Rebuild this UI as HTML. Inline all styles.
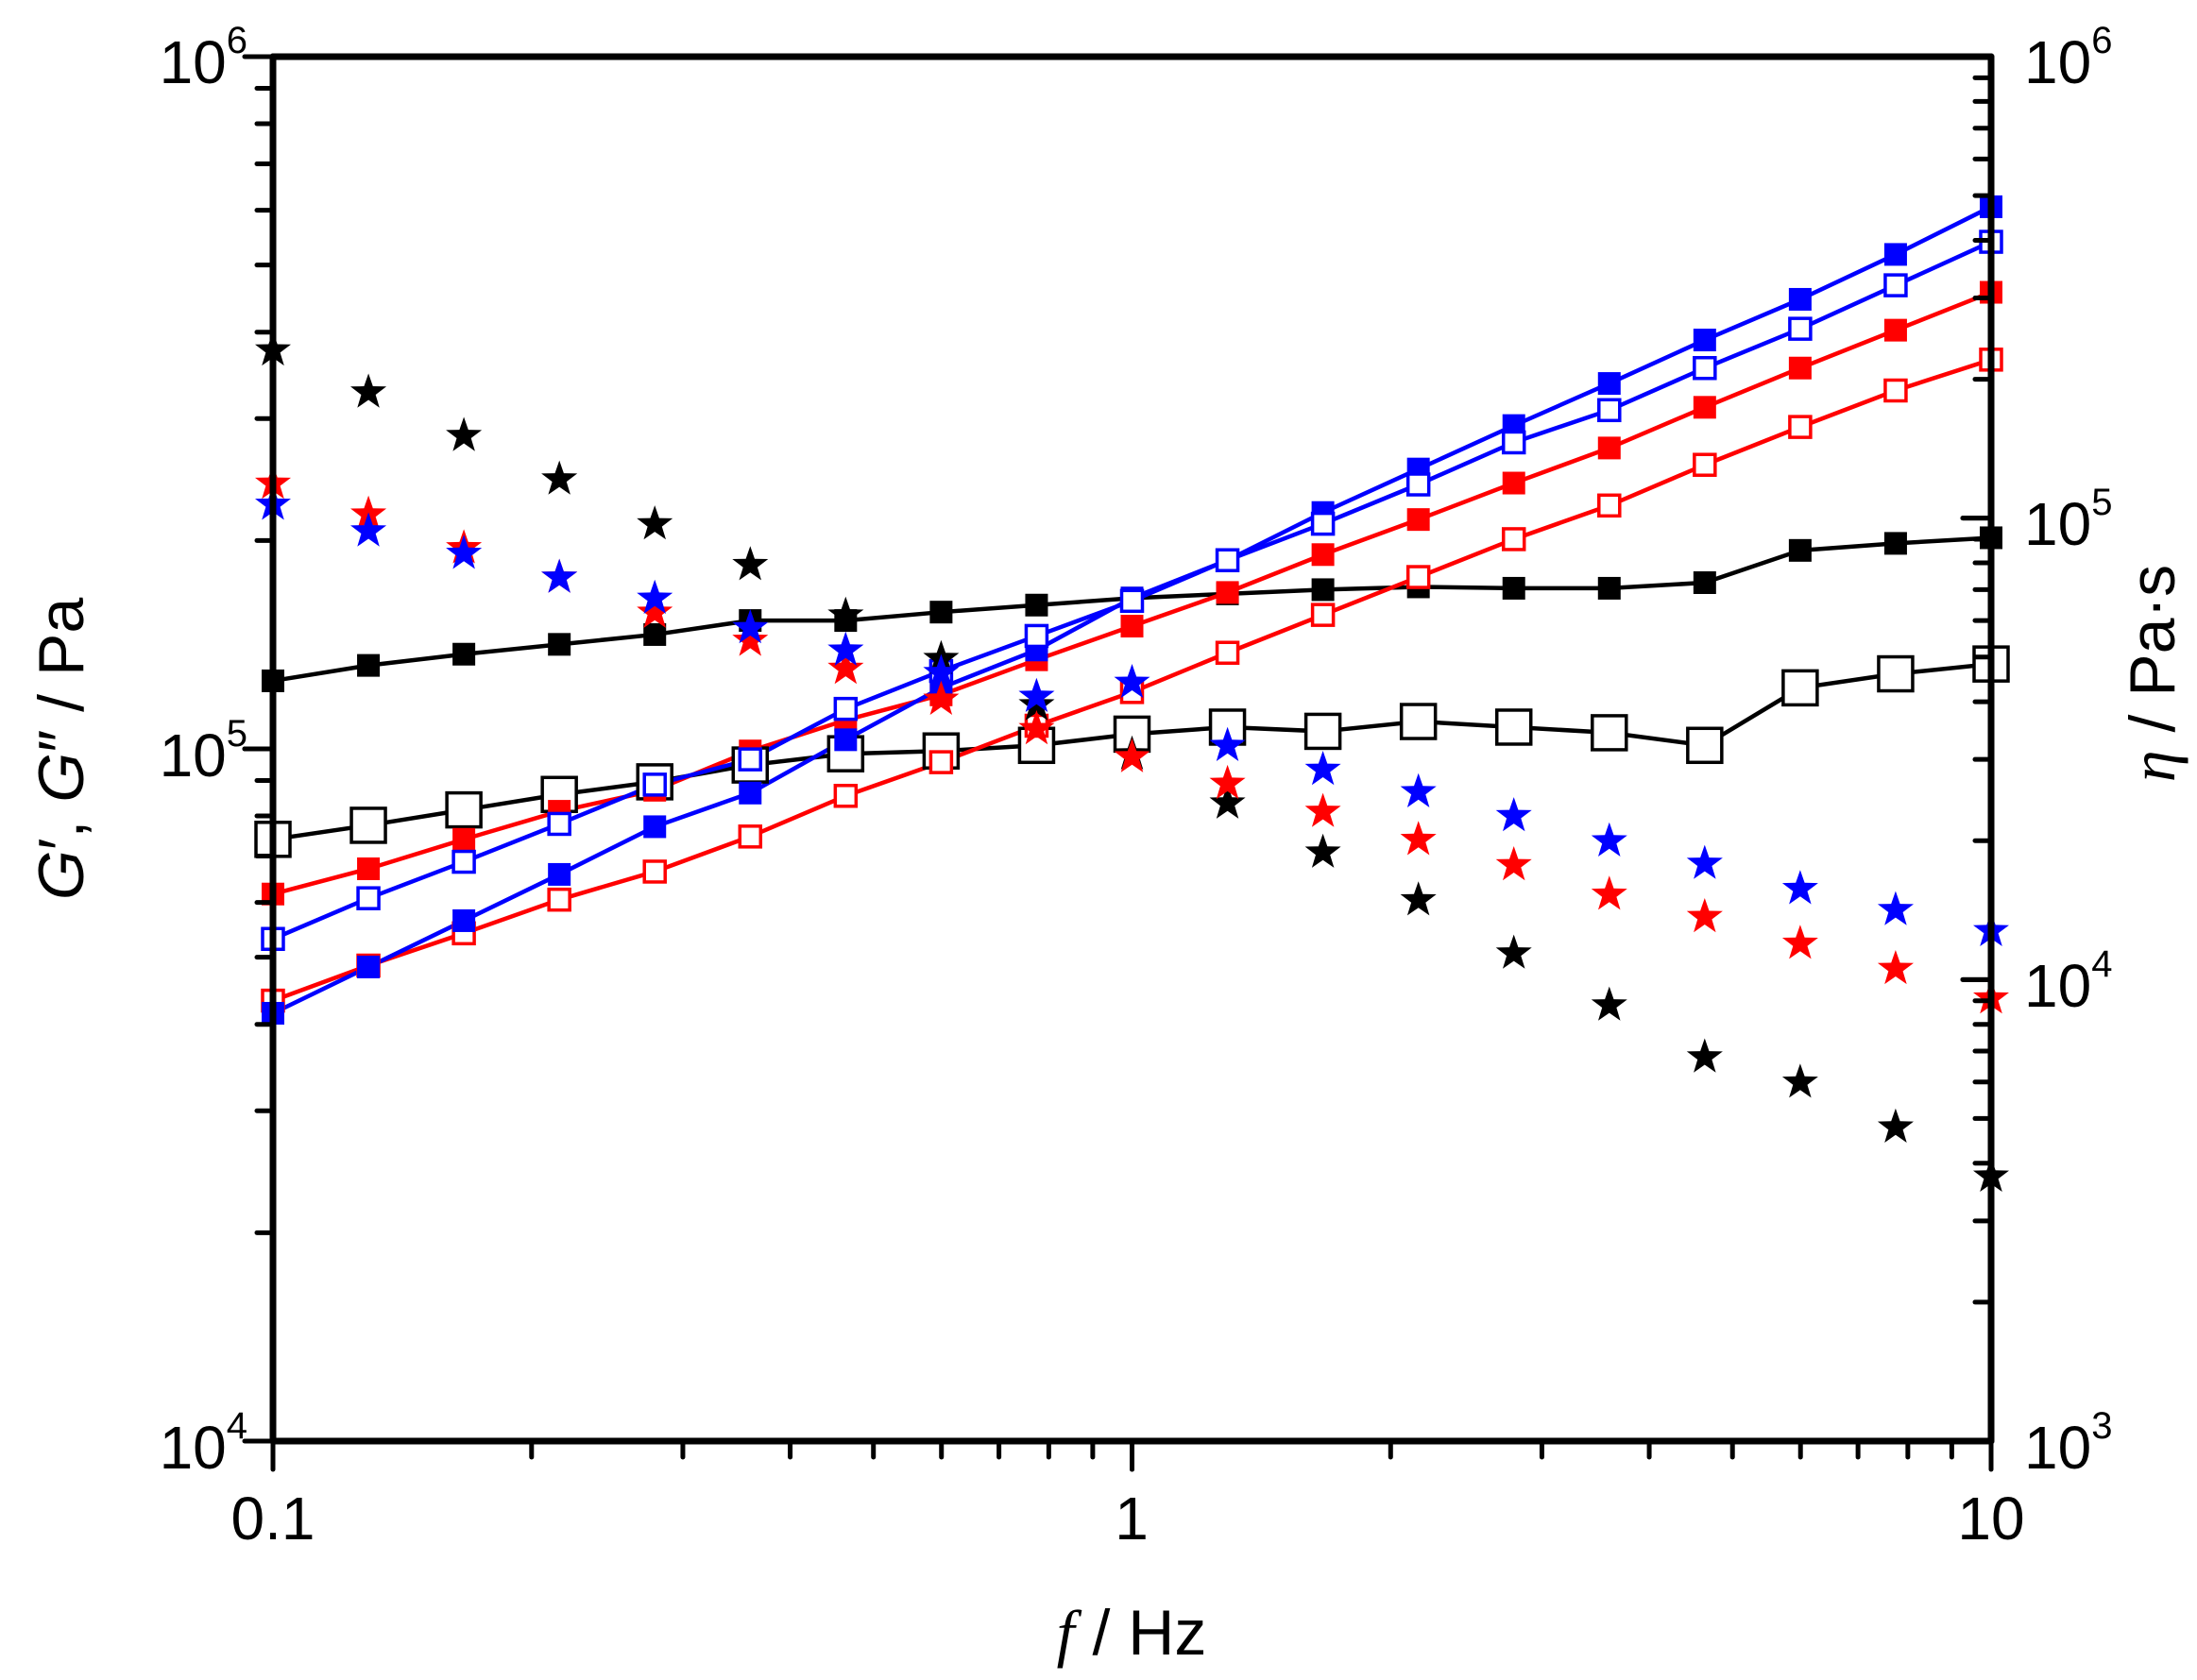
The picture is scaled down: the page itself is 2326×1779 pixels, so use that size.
<!DOCTYPE html>
<html><head><meta charset="utf-8"><style>
html,body{margin:0;padding:0;background:#fff;}
svg{display:block;}
text{font-family:"Liberation Sans",Arial,sans-serif;}
</style></head><body>
<svg id="s" width="2326" height="1779" viewBox="0 0 2326 1779" xmlns="http://www.w3.org/2000/svg">
<rect width="2326" height="1779" fill="#fff"/>
<g id="data"></g>
<g id="axes" stroke="#000" stroke-width="7" fill="none" stroke-linecap="round">
<line x1="289" y1="60" x2="2108" y2="60"/>
<line x1="289" y1="1526" x2="2108" y2="1526"/>
<line x1="289" y1="60" x2="289" y2="1526"/>
<line x1="2108" y1="60" x2="2108" y2="1526"/>
</g>
<g id="ticks" stroke="#000" stroke-width="5" stroke-linecap="round"></g>
<g font-size="64" fill="#000">
<text x="262" y="88" text-anchor="end">10<tspan dy="-32" font-size="40">6</tspan></text>
<text x="262" y="822" text-anchor="end">10<tspan dy="-32" font-size="40">5</tspan></text>
<text x="262" y="1555" text-anchor="end">10<tspan dy="-32" font-size="40">4</tspan></text>
<text x="2143" y="88">10<tspan dy="-32" font-size="40">6</tspan></text>
<text x="2143" y="577">10<tspan dy="-32" font-size="40">5</tspan></text>
<text x="2143" y="1066">10<tspan dy="-32" font-size="40">4</tspan></text>
<text x="2143" y="1555">10<tspan dy="-32" font-size="40">3</tspan></text>
<text x="289" y="1630" text-anchor="middle">0.1</text>
<text x="1198" y="1630" text-anchor="middle">1</text>
<text x="2108" y="1630" text-anchor="middle">10</text>
</g>
<text x="1198" y="1752" text-anchor="middle" font-size="68"><tspan font-family="Liberation Serif" font-style="italic">f</tspan> / Hz</text>
<text transform="translate(88,793) rotate(-90)" text-anchor="middle" font-size="68"><tspan font-style="italic">G</tspan>′, <tspan font-style="italic">G</tspan>″ / Pa</text>
<text transform="translate(2302,713) rotate(-90)" text-anchor="middle" font-size="68"><tspan font-family="Liberation Serif" font-style="italic">η</tspan> / Pa·s</text>
</svg>
<script>
const NS="http://www.w3.org/2000/svg";
const L=289,R=2108,T=60,B=1526;
const tk=document.getElementById('ticks');
function ln(x1,y1,x2,y2){const e=document.createElementNS(NS,'line');e.setAttribute('x1',x1);e.setAttribute('y1',y1);e.setAttribute('x2',x2);e.setAttribute('y2',y2);tk.appendChild(e);}
for(let d=0;d<2;d++){for(let m=1;m<=10;m++){const x=L+(d+Math.log10(m))*(R-L)/2;const len=(m==1||m==10)?30:17;ln(x,B,x,B+len);}}
for(let d=0;d<2;d++){for(let m=1;m<=10;m++){const y=B-(d+Math.log10(m))*(B-T)/2;const len=(m==1||m==10)?30:17;ln(L,y,L-len,y);}}
for(let d=0;d<3;d++){for(let m=1;m<=10;m++){const y=B-(d+Math.log10(m))*(B-T)/3;const len=(m==1||m==10)?30:17;ln(R,y,R-len,y);}}
const g=document.getElementById('data');
const X=i=>L+i*(R-L)/18;
const Y=yd=>60+(yd-40)*1.4853;
function el(t,a){const e=document.createElementNS(NS,t);for(const k in a)e.setAttribute(k,a[k]);g.appendChild(e);return e;}
function line(ys,c){el('polyline',{points:ys.map((y,i)=>X(i)+','+Y(y)).join(' '),fill:'none',stroke:c,'stroke-width':4.5});}
function sq(ys,c,s,fill){ys.forEach((y,i)=>{el('rect',{x:X(i)-s/2,y:Y(y)-s/2,width:s,height:s,fill:fill?c:'#fff',stroke:c,'stroke-width':fill?0:3.5});});}
function star(ys,c){ys.forEach((y,i)=>{const cx=X(i),cy=Y(y)+2,r=20,ri=8;let p=[];for(let k=0;k<10;k++){const a=-Math.PI/2+k*Math.PI/5;const rr=k%2?ri:r;p.push((cx+rr*Math.cos(a)).toFixed(1)+','+(cy+rr*Math.sin(a)).toFixed(1));}el('polygon',{points:p.join(' '),fill:c});});}
const bkF=[485,474,466,459,452,442,442,436,431,426,423,420,418,419,419,415,392,387,383];
const bkO=[598,588,577,566,557,545,537,535,531,523,518,521,514,518,522,531,490,480,473];
const rdF=[637,619,598,578,563,535,513,495,470,446,422,395,370,344,319,290,262,235,208];
const rdO=[713,688,665,641,621,596,567,543,517,493,465,438,411,384,360,331,304,278,256];
const blF=[722,689,656,623,589,565,527,490,463,426,399,365,334,303,273,242,213,181,147];
const blO=[669,640,614,587,559,541,505,478,453,428,399,373,345,315,292,262,234,203,172];
const bkS=[248,278,309,340,372,401,437,468,501,536,571,606,640,678,715,752,770,802,837];
const rdS=[343,365,389,410,435,455,475,497,518,538,557,577,597,615,636,652,671,689,710];
const blS=[358,377,393,410,425,446,462,478,495,485,530,547,563,580,598,614,632,647,662];
line(bkF,'#000');line(bkO,'#000');line(rdF,'#f00');line(rdO,'#f00');line(blF,'#00f');line(blO,'#00f');
sq(bkF,'#000',24,true);sq(bkO,'#000',36,false);sq(rdF,'#f00',24,true);sq(rdO,'#f00',22,false);sq(blF,'#00f',24,true);sq(blO,'#00f',22,false);
star(bkS,'#000');star(rdS,'#f00');star(blS,'#00f');
</script>
</body></html>
